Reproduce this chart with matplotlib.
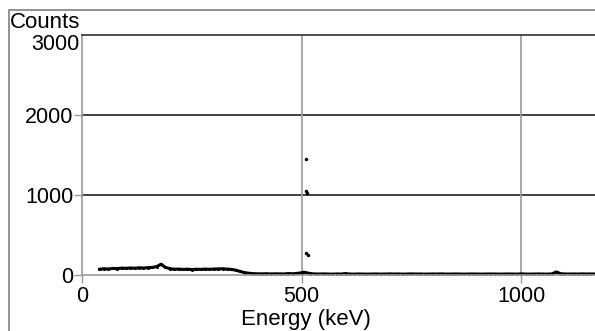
import matplotlib.pyplot as plt
from matplotlib.patches import Rectangle

plt.rcParams['font.family'] = ['Liberation Sans', 'DejaVu Sans']

# spectrum (keV, counts)
energy = [40, 50, 60, 70, 80, 90, 100, 110, 120, 130, 140, 150, 160, 170, 180,
          190, 200, 210, 220, 230, 240, 250, 260, 270, 280, 290, 300, 310, 320, 330, 340,
          350, 360, 370, 380, 390, 400,
          410, 420, 430, 440, 450, 460, 470, 480, 490, 500,
          505, 520, 530, 540, 550, 560, 570, 580, 590, 600,
          610, 620, 630, 640, 650, 660, 670, 680, 690, 700,
          710, 720, 730, 740, 750, 760, 770, 780, 790, 800,
          810, 820, 830, 840, 850, 860, 870, 880, 890, 900,
          910, 920, 930, 940, 950, 960, 970, 980, 990, 1000,
          1010, 1020, 1030, 1040, 1050, 1060, 1070, 1080, 1090, 1100,
          1110, 1120, 1130, 1140, 1150, 1160, 1170]
counts = [72, 78, 75, 82, 80, 86, 84, 88, 85, 90, 87, 92, 95, 105, 135,
          95, 80, 72, 74, 70, 73, 68, 72, 70, 74, 71, 75, 76, 78, 74, 70,
          60, 45, 30, 22, 17, 15,
          14, 16, 13, 15, 14, 13, 18, 15, 20, 28,
          35, 18, 13, 12, 14, 12, 11, 13, 12, 18,
          12, 11, 13, 12, 11, 12, 13, 11, 12, 14,
          12, 13, 11, 12, 14, 12, 13, 11, 12, 13,
          12, 14, 11, 12, 13, 12, 11, 12, 13, 12,
          11, 12, 13, 12, 11, 12, 13, 12, 11, 14,
          12, 11, 12, 13, 12, 11, 14, 38, 16, 13,
          12, 13, 12, 14, 12, 13, 12]

# scattered points of the 511 keV peak
peak_e = [509, 511, 513, 510, 514]
peak_c = [1455, 1048, 1030, 280, 250]

fig = plt.figure(figsize=(5.95, 3.31), dpi=100)
W, H = 595, 331
ax = fig.add_axes([82 / W, 56 / H, 513 / W, 240 / H])

# outer frame
fig.patches.append(Rectangle((9 / W, -0.1), 1.2, 1.1 - 10 / H, transform=fig.transFigure,
                             fill=False, edgecolor='#808080', lw=1.2))

ax.plot(energy, counts, color='black', lw=2.2, solid_joinstyle='round')
ax.plot(energy, counts, 'k.', ms=2.5)
ax.plot(peak_e, peak_c, 'k.', ms=3)

ax.set_xlim(0, 1168)
ax.set_ylim(0, 3000)

ax.set_xticks([0, 500, 1000])
ax.set_yticks([0, 1000, 2000])
for v in [1000, 2000]:
    ax.axhline(v, color='#202020', lw=1.2, zorder=0)
for v in [500, 1000]:
    ax.axvline(v, color='#999999', lw=1.2, zorder=0)

ax.spines['right'].set_visible(False)
ax.spines['left'].set_color('#999999')
ax.spines['bottom'].set_color('#999999')
ax.spines['top'].set_color('#303030')
for s in ['left', 'bottom', 'top']:
    ax.spines[s].set_linewidth(1.2)

ax.tick_params(axis='both', length=6, width=1, color='#999999', labelsize=15.5)
ax.tick_params(axis='y', pad=0)
ax.tick_params(axis='x', pad=2)

ax.text(-0.005, 0.96, '3000', transform=ax.transAxes, ha='right', va='center', fontsize=15.5)
fig.text(10 / W, 1 - 22 / H, 'Counts', ha='left', va='center', fontsize=16)
fig.text(306 / W, 1 - 320 / H, 'Energy (keV)', ha='center', va='center', fontsize=16)

fig.savefig('out.png', dpi=100)
